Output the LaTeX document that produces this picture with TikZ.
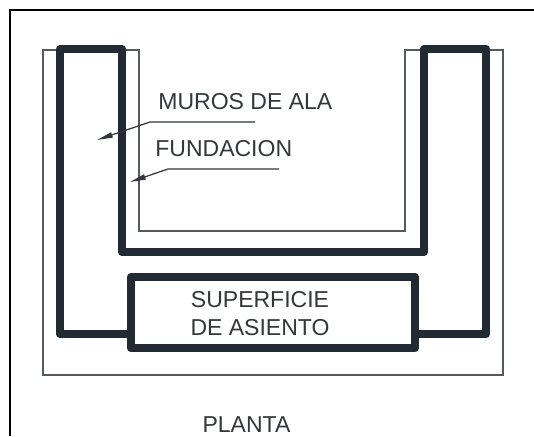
\documentclass[tikz,border=0pt]{standalone}
\usepackage{fontspec}
\setmainfont{Liberation Sans}
\usetikzlibrary{arrows.meta}

\definecolor{wallcolor}{HTML}{222B33}
\definecolor{labelcolor}{HTML}{33373B}
\definecolor{thincolor}{HTML}{555A5F}

\begin{document}
\begin{tikzpicture}[x=0.02cm, y=-0.02cm]
	%\draw[help lines] (0,0) grid (534,436);
	\tikzset{
		wall/.style={draw=wallcolor, line width=4.9pt, line join=round, line cap=round},
		footing/.style={draw=thincolor, line width=0.8pt},
		caption/.style={text=labelcolor, font=\fontsize{13.1}{16}\selectfont, inner sep=0pt},
		leader/.style={draw=labelcolor, line width=0.7pt, -{Stealth[length=9pt, width=3pt, inset=0pt]}}
	}
	\useasboundingbox (0,0) rectangle (534,436);

	\draw [black, line width=1.3pt] (10,436) -- (10,10) -- (534,10);

	\draw [footing] (43,50) -- (139,50) -- (139,231) -- (405,231) -- (405,50) -- (503,50) -- (503,375) -- (43,375) -- cycle;

	\node (asiento) [wall, minimum width=284*0.02cm, minimum height=71*0.02cm, inner sep=0pt] at (273,312.5) {};
	\draw [wall] (asiento.west |- 0,334) -- (60,334) -- (60,49) -- (122,49) -- (122,252) -- (424,252) -- (424,49) -- (486,49) -- (486,334) -- (asiento.east |- 0,334);

	\node (muros) [caption, anchor=west] at (158,102) {MUROS DE ALA};
	\node (fundacion) [caption, anchor=west] at (155,149) {FUNDACION};
	\node (superficie) [caption, align=center] at (260,314) {SUPERFICIE\\DE ASIENTO};
	\node (planta) [caption] at (246.5,425) {PLANTA};

	\coordinate (murosend) at (255,122);
	\coordinate (murosbend) at (150,122);
	\coordinate (murostip) at (97,140);
	\coordinate (fundend) at (279,169);
	\coordinate (fundbend) at (168,169);
	\coordinate (fundtip) at (130,182);

	\draw [leader] (murosend) -- (murosbend) -- (murostip);
	\draw [leader] (fundend) -- (fundbend) -- (fundtip);
\end{tikzpicture}
\end{document}
